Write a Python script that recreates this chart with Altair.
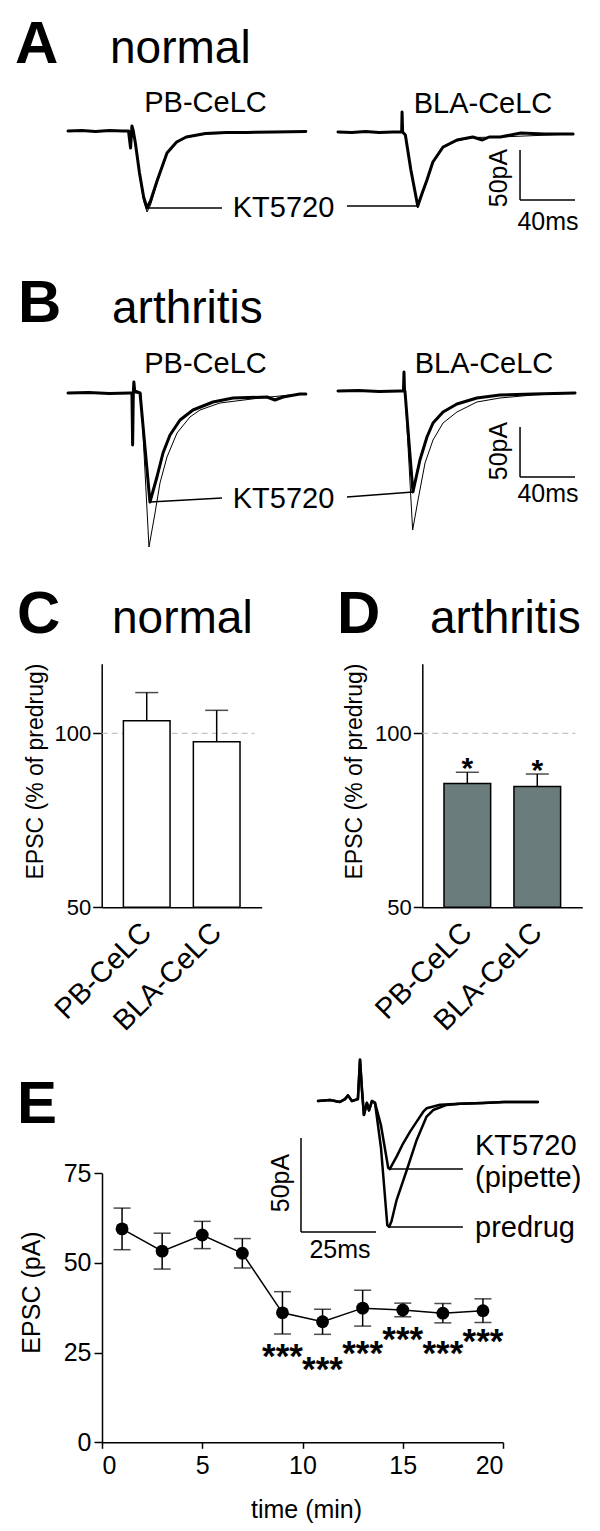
import altair as alt
import pandas as pd

FONT = "Liberation Sans"
W, H = 584, 1515

# ---------------- Panel A traces (ms, pA relative to baseline) ----------------
A_PB_KT_T = [0, 10, 20, 30, 40, 44, 45.5, 46.5, 47.5, 49, 52, 55, 57.5, 60, 65, 72, 79, 86, 100, 115, 130, 150, 173]
A_PB_KT_I = [0, 0.5, -0.5, 0.5, 0, 0, -17, 5, 0, -12, -42, -66, -77, -70, -49, -22, -11, -6, -2.5, -1.5, -1.5, -1, -0.5]
A_PB_PRE_T = [0, 44, 47.5, 49, 52, 55, 57.5, 60, 65, 72, 79, 86, 100, 130, 173]
A_PB_PRE_I = [0, 0, 0, -12, -44, -70, -81, -74, -51, -23, -12, -6.5, -3, -1.5, -0.5]

A_BLA_KT_T = [0, 10, 20, 30, 40, 46.3, 46.6, 47.0, 49, 53, 58, 61, 64.7, 69, 76.4, 86.5, 98, 105, 110, 118, 133, 150, 171]
A_BLA_KT_I = [0, -0.5, 0.5, -0.5, 0, 0, 20, 0, -3, -38, -74, -62, -48, -30, -15, -8, -5, -8, -5, -5, -1, -2, -2]
A_BLA_PRE_T = [0, 47.0, 49, 53, 58, 61, 64.7, 69, 76.4, 86.5, 98, 118, 171]
A_BLA_PRE_I = [0, 0, -3, -38, -76, -63, -49, -31, -16, -9, -5.5, -5, -2]

# ---------------- Panel B traces ----------------
B_PB_KT_T = [0, 15, 30, 45, 46.5, 47, 47.5, 47.9, 48.5, 52.4, 59.6, 64.7, 69.1, 74.2, 81.5, 90.9, 105.5, 120, 144.7, 150.5, 156.4, 168.7, 173]
B_PB_KT_I = [0, 0.5, -0.5, 0, 0, -52, 0, 11, 2, 0, -109, -84, -60, -42, -27, -17, -9, -5, -4, -7, -4, -1, -1]
B_PB_PRE_T = [0, 45, 53, 58.9, 63.3, 66.9, 72, 79.3, 88.7, 96, 110.5, 139.6, 168.7, 173]
B_PB_PRE_I = [0, 0, 0, -154, -120, -90, -64, -40, -24, -17, -10, -5, -1, -1]

B_BLA_KT_T = [0, 15, 30, 45, 47.6, 48.0, 48.4, 48.7, 54.5, 59.6, 64.7, 69.1, 76.4, 86.5, 101, 117.8, 141.8, 172.4]
B_BLA_KT_I = [0, 0.5, -0.5, 0, 0, 19, 0, 0, -101, -69, -46, -32, -21, -13, -7, -4, -3, -2]
B_BLA_PRE_T = [0, 48.7, 54.3, 58.2, 63.3, 69.1, 76.4, 86.5, 101, 117.8, 141.8, 172.4]
B_BLA_PRE_I = [0, 0, -139, -109, -72, -49, -32, -21, -11, -7, -4, -2]

# ---------------- Panels C / D bars ----------------
CATS = ["PB-CeLC", "BLA-CeLC"]
C_MEAN = [103.6, 97.6]
C_SEM = [8.1, 9.0]
D_MEAN = [85.6, 84.7]
D_SEM = [3.2, 3.6]

# ---------------- Panel E time course ----------------
E_T = [1, 3, 5, 7, 9, 11, 13, 15, 17, 19]
E_MEAN = [59.5, 53.3, 57.8, 52.7, 36.1, 33.6, 37.4, 36.9, 36.0, 36.7]
E_SEM = [5.8, 5.0, 3.8, 4.1, 5.9, 3.5, 5.0, 1.9, 2.7, 3.3]
STAR_T = [9, 11, 13, 15, 17, 19]
STAR_LEVEL = [26.3, 22.7, 27.1, 31.0, 27.1, 30.5]

# inset traces (ms, pA)
INS_PRE_T = [0, 4, 7.3, 9, 10, 11.3, 13.3, 14, 14.7, 15.3, 16.3, 17, 18, 19]
INS_PRE_I = [0, 0.5, -0.5, 1, 3, 0, 1, 22, 5, -7.4, -1, -5, 0, -1]
INS_KT_T = [21, 23.4, 23.9, 26.2, 28.4, 30.7, 32.9, 35.1, 36.2, 40.7, 47.3, 55, 62, 73.3]
INS_KT_I = [-13, -35.5, -36.2, -29.6, -22.5, -16.3, -11, -5.7, -3.9, -2, -1.5, -1, -0.5, -0.5]
INS_PD_T = [21, 23.1, 23.7, 24.5, 26.2, 29.6, 32.9, 36.2, 38.4, 42.9, 47.3, 55, 62, 73.3]
INS_PD_I = [-25, -66, -67, -64, -52.7, -36.7, -20.7, -8.3, -4.8, -2.1, -1.5, -1, -0.5, -0.5]


def sc(domain, rng):
    return alt.Scale(domain=domain, range=rng, nice=False, zero=False)


def line(t, i, xs, ys, width):
    df = pd.DataFrame({"t": t, "i": i, "k": list(range(len(t)))})
    return alt.Chart(df).mark_line(color="black", strokeWidth=width, strokeJoin="round",
                                   strokeCap="round").encode(
        x=alt.X("t:Q", scale=xs, axis=None),
        y=alt.Y("i:Q", scale=ys, axis=None),
        order="k:Q")


def seg(rows, xs, ys, width=1.5):
    df = pd.DataFrame(rows, columns=["t", "i", "t2", "i2"])
    return alt.Chart(df).mark_rule(color="black", strokeWidth=width).encode(
        x=alt.X("t:Q", scale=xs, axis=None), y=alt.Y("i:Q", scale=ys, axis=None),
        x2="t2:Q", y2="i2:Q")


def label(s, x, y, size, weight="normal", align="left", angle=0, baseline="alphabetic"):
    return alt.Chart(pd.DataFrame({"s": [s]})).mark_text(
        font=FONT, fontSize=size, fontWeight=weight, align=align, baseline=baseline,
        angle=angle, color="black").encode(x=alt.value(x), y=alt.value(y), text="s:N")


def trough(t, i):
    k = min(range(len(i)), key=lambda j: i[j])
    return t[k], i[k]


layers = []

# ---------- A ----------
xs = sc([0, 175], [60, 300.6]); ys = sc([-90, 20], [213, 103])
tt, ti = trough(A_PB_KT_T, A_PB_KT_I)
layers.append(alt.layer(
    line(A_PB_PRE_T, A_PB_PRE_I, xs, ys, 1.0),
    line(A_PB_KT_T, A_PB_KT_I, xs, ys, 3.0),
    seg([[tt, ti, 112, ti]], xs, ys)))
xs = sc([0, 175], [330, 570.6]); ys = sc([-90, 25], [214, 99])
tt, ti = trough(A_BLA_KT_T, A_BLA_KT_I)
layers.append(alt.layer(
    line(A_BLA_PRE_T, A_BLA_PRE_I, xs, ys, 1.0),
    line(A_BLA_KT_T, A_BLA_KT_I, xs, ys, 3.0),
    seg([[6.5, ti, tt, ti]], xs, ys),
    seg([[132.4, -18, 132.4, -68], [132.4, -68, 172.4, -68]], xs, ys)))

# ---------- B ----------
xs = sc([0, 175], [60, 300.6]); ys = sc([-160, 20], [545, 365])
tt, ti = trough(B_PB_KT_T, B_PB_KT_I)
layers.append(alt.layer(
    line(B_PB_PRE_T, B_PB_PRE_I, xs, ys, 1.0),
    line(B_PB_KT_T, B_PB_KT_I, xs, ys, 3.0),
    seg([[tt, ti, 112, ti + 4]], xs, ys)))
xs = sc([0, 175], [330, 570.6]); ys = sc([-145, 25], [528, 358])
tt, ti = trough(B_BLA_KT_T, B_BLA_KT_I)
layers.append(alt.layer(
    line(B_BLA_PRE_T, B_BLA_PRE_I, xs, ys, 1.0),
    line(B_BLA_KT_T, B_BLA_KT_I, xs, ys, 3.0),
    seg([[6.5, ti - 5, tt, ti]], xs, ys),
    seg([[132.4, -36, 132.4, -86], [132.4, -86, 172.4, -86]], xs, ys)))


# ---------- C / D ----------
def bar_panel(means, sems, fill, x0, title_x, stars):
    df = pd.DataFrame({"cat": CATS, "mean": means, "sem": sems})
    df["top"] = df["mean"] + df["sem"]
    xsc = alt.Scale(domain=CATS, range=[x0, x0 + 160], paddingInner=0.333, paddingOuter=0.31)
    ysc = sc([50, 120], [899.3, 655.7])
    xa = alt.Axis(orient="bottom", offset=899.3 - H, ticks=False, labelAngle=315,
                  labelAlign="right", labelBaseline="middle", labelPadding=20,
                  labelFontSize=29, domainWidth=1.5, title=None)
    ya = alt.Axis(orient="left", offset=-x0, values=[50, 100], tickSize=9, tickWidth=1.5,
                  domainWidth=1.5, labelFontSize=22, labelPadding=2,
                  title="EPSC (% of predrug)", titleFontSize=23, titleX=title_x, titleY=763,
                  titleAngle=270, titleAlign="center", titleBaseline="middle")
    X = alt.X("cat:N", scale=xsc, axis=xa, sort=CATS)
    base = alt.Chart(df)
    ref = alt.Chart(pd.DataFrame({"ref": [100]})).mark_rule(
        color="#b5b5b5", strokeDash=[6, 4], strokeWidth=1).encode(
        y=alt.Y("ref:Q", scale=ysc, axis=ya), x=alt.value(x0), x2=alt.value(x0 + 153))
    bars = base.mark_bar(fill=fill, stroke="black", strokeWidth=1.5).encode(
        x=X, y=alt.Y("mean:Q", scale=ysc, axis=ya), y2=alt.datum(50))
    err = base.mark_rule(color="black", strokeWidth=1.5).encode(
        x=X, y=alt.Y("mean:Q", scale=ysc, axis=ya), y2="top:Q")
    cap = base.mark_tick(color="black", thickness=1.5, size=23, orient="horizontal").encode(
        x=X, y=alt.Y("top:Q", scale=ysc, axis=ya))
    parts = [ref, bars, err, cap]
    if stars:
        parts.append(base.transform_calculate(star='"*"').mark_text(
            font=FONT, fontSize=30, fontWeight="bold", dy=6, baseline="alphabetic",
            color="black").encode(
            x=X, y=alt.Y("top:Q", scale=ysc, axis=ya), text="star:N"))
    return alt.layer(*parts)


layers.append(bar_panel(C_MEAN, C_SEM, "white", 93.7, -66.7, False))
layers.append(bar_panel(D_MEAN, D_SEM, "#6b7c7c", 414.3, -68.3, True))

# ---------- E ----------
edf = pd.DataFrame({"t": E_T, "m": E_MEAN, "s": E_SEM})
edf["lo"] = edf["m"] - edf["s"]
edf["hi"] = edf["m"] + edf["s"]
exs = sc([0, 20], [94, 495])
eys = sc([0, 75], [1434.3, 1165.3])
exa = alt.Axis(orient="bottom", offset=1434.3 - H, values=[0, 5, 10, 15, 20], tickSize=6,
               tickWidth=1.5, domainWidth=1.5, labelFontSize=25, labelPadding=5, format="d",
               title="time (min)", titleFontSize=25, titleX=298, titleY=74.7,
               titleAlign="center", titleBaseline="alphabetic")
eya = alt.Axis(orient="left", offset=-94, values=[0, 25, 50, 75], tickSize=8, tickWidth=1.5,
               domainWidth=1.5, labelFontSize=25, labelPadding=3, format="d",
               title="EPSC (pA)", titleFontSize=25, titleX=-71, titleY=1284,
               titleAngle=270, titleAlign="center", titleBaseline="middle")
EX = alt.X("t:Q", scale=exs, axis=exa)
eb = alt.Chart(edf)
sdf = pd.DataFrame({"t": STAR_T, "lv": STAR_LEVEL, "s": ["***"] * len(STAR_T)})
layers.append(alt.layer(
    eb.mark_line(color="black", strokeWidth=1.5).encode(x=EX, y=alt.Y("m:Q", scale=eys, axis=eya)),
    eb.mark_rule(color="black", strokeWidth=1.5).encode(x=EX, y=alt.Y("lo:Q", scale=eys, axis=eya), y2="hi:Q"),
    eb.mark_tick(color="black", thickness=1.5, size=17, orient="horizontal").encode(
        x=EX, y=alt.Y("lo:Q", scale=eys, axis=eya)),
    eb.mark_tick(color="black", thickness=1.5, size=17, orient="horizontal").encode(
        x=EX, y=alt.Y("hi:Q", scale=eys, axis=eya)),
    eb.mark_circle(color="black", opacity=1, size=165).encode(x=EX, y=alt.Y("m:Q", scale=eys, axis=eya)),
    alt.Chart(sdf).mark_text(font=FONT, fontSize=35, fontWeight="bold", dy=20,
                             baseline="alphabetic", color="black").encode(
        x=EX, y=alt.Y("lv:Q", scale=eys, axis=eya), text="s:N"),
))

# inset
ixs = sc([-10, 75], [280, 535])
iys = sc([-75, 25], [1234, 1046])
ktt, kti = trough(INS_KT_T, INS_KT_I)
pdt, pdi = trough(INS_PD_T, INS_PD_I)
layers.append(alt.layer(
    line(INS_PRE_T + INS_PD_T, INS_PRE_I + INS_PD_I, ixs, iys, 2.5),
    line(INS_PRE_T + INS_KT_T, INS_PRE_I + INS_KT_I, ixs, iys, 2.5),
    seg([[ktt, kti, 48.3, kti], [pdt, pdi, 48.3, pdi]], ixs, iys),
    seg([[-5.67, -19.7, -5.67, -69.7], [-5.67, -69.7, 19.33, -69.7]], ixs, iys),
))

# ---------- text ----------
layers += [
    label("A", 7, 55, 60, "bold"), label("normal", 102, 55, 46),
    label("PB-CeLC", 197.5, 104, 29, align="center"),
    label("BLA-CeLC", 475, 105, 29, align="center"),
    label("KT5720", 275.5, 209, 29, align="center"),
    label("50pA", 491, 170, 25, align="center", angle=270, baseline="middle"),
    label("40ms", 540, 222, 25, align="center"),
    label("B", 10, 314, 60, "bold"), label("arthritis", 104, 315, 46),
    label("PB-CeLC", 197.5, 365, 29, align="center"),
    label("BLA-CeLC", 476, 365, 29, align="center"),
    label("KT5720", 275.5, 500, 29, align="center"),
    label("50pA", 491, 443, 25, align="center", angle=270, baseline="middle"),
    label("40ms", 540, 494, 25, align="center"),
    label("C", 9, 625, 60, "bold"), label("normal", 104, 625, 46),
    label("D", 329, 625, 60, "bold"), label("arthritis", 422, 625, 46),
    label("E", 9, 1115, 60, "bold"),
    label("50pA", 273, 1175, 25, align="center", angle=270, baseline="middle"),
    label("25ms", 332, 1250, 25, align="center"),
    label("KT5720", 467, 1147, 29), label("(pipette)", 467, 1179, 29),
    label("predrug", 467, 1229, 29),
]

chart = alt.layer(*layers).resolve_scale(x="independent", y="independent").properties(
    width=W, height=H, padding=0, autosize=alt.AutoSizeParams(type="none"),
    background="white"
).configure_view(stroke=None).configure_axis(
    grid=False, labelFont=FONT, titleFont=FONT, labelColor="black", titleColor="black",
    domainColor="black", tickColor="black", titleFontWeight="normal"
)

chart.save("out.html", embed_options={"renderer": "svg", "actions": False})
